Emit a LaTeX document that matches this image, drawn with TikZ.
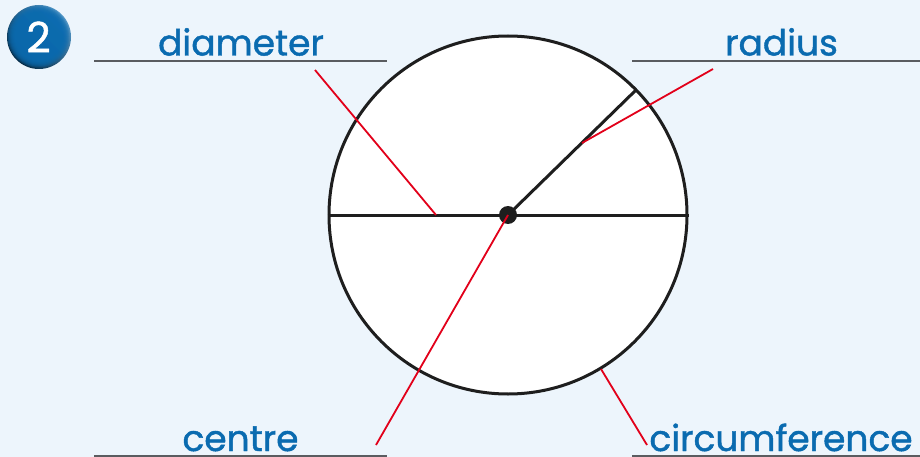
\documentclass[tikz,border=0pt]{standalone}
\usepackage{fontspec}
\setmainfont{Poppins}[FakeBold=1.2]
\usepackage{xcolor}
\usetikzlibrary{calc, positioning}

\definecolor{paleblue}{HTML}{EDF5FC}
\definecolor{wordblue}{HTML}{0A6BB0}
\definecolor{rulegrey}{HTML}{5A5C60}
\definecolor{pointerred}{HTML}{E2001A}
\definecolor{inkblack}{HTML}{1E1E1E}

\tikzset{
  wordlabel/.style={text=wordblue, font=\fontsize{36}{36}\selectfont, inner sep=0pt, anchor=base},
  answerline/.style={draw=rulegrey, line width=2pt},
  pointer/.style={draw=pointerred, line width=1.8pt},
  ink/.style={draw=inkblack, line width=3pt},
}

\begin{document}
\begin{tikzpicture}[x=1pt, y=-1pt]
  \useasboundingbox[fill=paleblue] (0,0) rectangle (920,457);

  % Number badge
  \shade[left color=wordblue!70!white, right color=wordblue!40!black, shading angle=-45] (39,37) circle (32);
  \foreach \rad in {31,30,...,24}
    \fill[wordblue, opacity=0.3] (38.5,36.5) circle (\rad);
  \node[text=white, font=\fontsize{42}{42}\selectfont, inner sep=0pt] (badgenum) at (38.5,37) {2};

  % Circle with its lines
  \coordinate (centre) at (508,215);
  \node[circle, draw=inkblack, fill=white, line width=3pt, minimum size=358pt, inner sep=0pt] (disc) at (centre) {};
  \coordinate (rimr) at (636,90);
  \draw[ink] (disc.west) -- (disc.east);
  \draw[ink] (centre) -- (rimr);
  \node[circle, fill=inkblack, minimum size=18pt, inner sep=0pt] (dot) at (centre) {};

  % Answer lines
  \coordinate (lineAl) at (94,61);
  \coordinate (lineAr) at (387,61);
  \coordinate (lineBl) at (632,61);
  \coordinate (lineBr) at (920,61);
  \coordinate (lineCl) at (94,456);
  \coordinate (lineCr) at (387,456);
  \coordinate (lineDl) at (632,456);
  \coordinate (lineDr) at (920,456);
  \draw[answerline] (lineAl) -- (lineAr);
  \draw[answerline] (lineBl) -- (lineBr);
  \draw[answerline] (lineCl) -- (lineCr);
  \draw[answerline] (lineDl) -- (lineDr);

  % Words
  \node[wordlabel] (diameter) at (241,55.5) {diameter};
  \node[wordlabel] (radius) at (781.5,55.5) {radius};
  \node[wordlabel] (centreword) at (240.5,451) {centre};
  \node[wordlabel] (circumference) at (781,451) {circumference};

  % Pointers
  \coordinate (ptrAa) at (315,70);
  \coordinate (ptrAb) at (436,215);
  \coordinate (ptrBa) at (713,69);
  \coordinate (ptrBb) at (582,143);
  \coordinate (ptrCa) at (376,445);
  \coordinate (ptrDa) at (647,445);
  \coordinate (ptrDb) at (601,369);
  \draw[pointer] (ptrAa) -- (ptrAb);
  \draw[pointer] (ptrBa) -- (ptrBb);
  \draw[pointer] (ptrCa) -- (centre);
  \draw[pointer] (ptrDa) -- (ptrDb);
\end{tikzpicture}
\end{document}
